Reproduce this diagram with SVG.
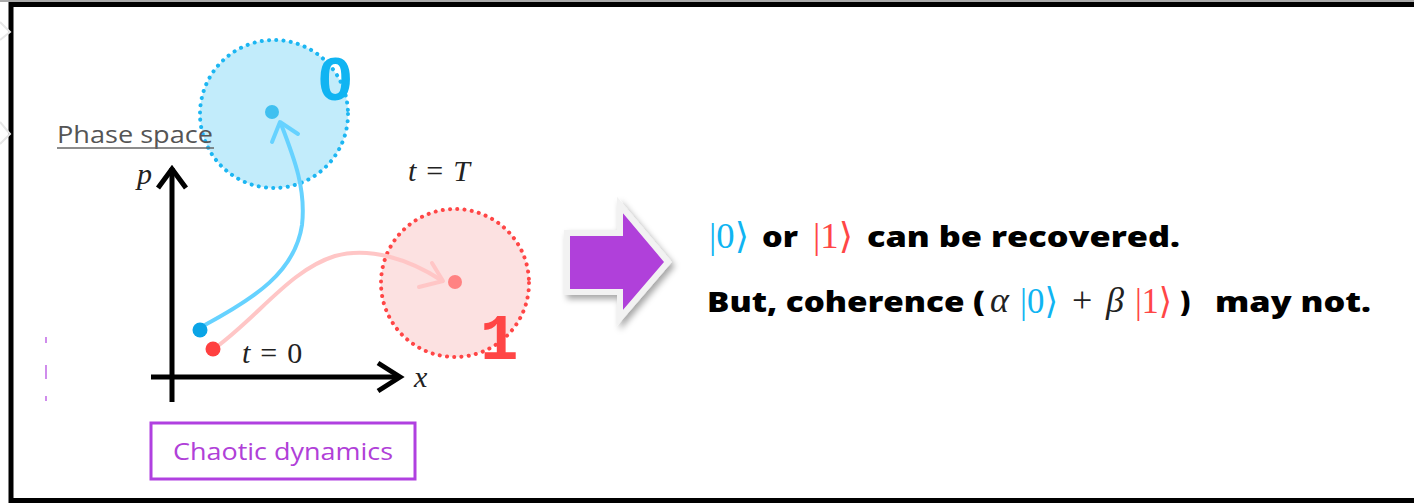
<svg xmlns="http://www.w3.org/2000/svg" width="1414" height="503" viewBox="0 0 1414 503">
<style>
.bold{font-family:'Open Sans','Noto Sans','Liberation Sans',sans-serif;font-weight:800;font-size:29px;fill:#000}
.math{font-family:'Liberation Serif','DejaVu Serif','DejaVu Sans',serif;font-size:36px}
.mi{font-family:'Liberation Serif','DejaVu Serif',serif;font-style:italic;font-size:30px;fill:#222}
.mn{font-family:'Liberation Serif','DejaVu Serif',serif;font-size:30px;fill:#222}
.cyan{fill:#10B4F2}
.red{fill:#FF4646}
.axis{stroke:#000;stroke-width:5;fill:none;stroke-linecap:butt}
.head{stroke:#000;stroke-width:5;fill:none;stroke-linejoin:miter}
</style>
<defs>
<filter id="sh" x="-30%" y="-30%" width="170%" height="170%">
<feDropShadow dx="3" dy="4" stdDeviation="3" flood-color="#000" flood-opacity="0.35"/>
</filter>
</defs>
<rect width="1414" height="503" fill="#fff"/>
<!-- frame -->
<line x1="0" y1="1" x2="1414" y2="1" stroke="#aaa" stroke-width="2"/>
<path d="M1420,4.5 H11 V500.5 H1420" fill="none" stroke="#000" stroke-width="5"/>
<!-- faint edge chevrons -->
<polyline points="0,22 10,32 0,40" fill="none" stroke="#e6e6e6" stroke-width="2"/>
<polyline points="0,122 10,134 0,144" fill="none" stroke="#e6e6e6" stroke-width="2"/>
<!-- purple ticks -->
<g stroke="#B040E0" stroke-width="1.2">
<line x1="46" y1="337" x2="46" y2="343"/>
<line x1="46" y1="365" x2="46" y2="379"/>
<line x1="46" y1="396" x2="46" y2="401"/>
</g>

<g id="state0">
<circle cx="274" cy="114" r="74" fill="#C2ECFB" stroke="#1CB6F2" stroke-width="4" stroke-dasharray="0.1 7.2" stroke-linecap="round"/>
<circle cx="272" cy="112" r="7" fill="#40C0F0"/>
<text x="318" y="100" font-family="'Liberation Sans','Noto Sans',sans-serif" font-weight="700" font-size="62" fill="#10B4F2">0</text>
</g>

<g id="state1">
<circle cx="455" cy="283" r="74" fill="#FCE1E1" stroke="#FF4646" stroke-width="4" stroke-dasharray="0.1 7.2" stroke-linecap="round"/>
<circle cx="455" cy="282" r="7" fill="#FF8282"/>
<text x="480" y="359" font-family="'Liberation Mono','DejaVu Sans Mono',monospace" font-weight="700" font-size="64" fill="#FF4646">1</text>
</g>

<g id="phase-space-label">
<text x="57" y="143" font-family="'Open Sans','Noto Sans',sans-serif" font-size="24" fill="#555" textLength="156" lengthAdjust="spacingAndGlyphs">Phase space</text>
<line x1="57" y1="148" x2="214" y2="148" stroke="#666" stroke-width="1.5"/>
</g>

<g id="axes">
<line class="axis" x1="172" y1="168" x2="172" y2="402"/>
<polyline class="head" points="158,188 172,169 186,188"/>
<line class="axis" x1="151" y1="377" x2="400" y2="377"/>
<polyline class="head" points="378,363 400,377 378,391"/>
<text class="mi" x="137" y="184">p</text>
<text class="mi" x="414" y="387">x</text>
</g>

<g id="labels">
<text x="408" y="181"><tspan class="mi">t</tspan><tspan class="mn" dx="10">=</tspan><tspan class="mi" dx="10">T</tspan></text>
<text x="242" y="363"><tspan class="mi">t</tspan><tspan class="mn" dx="10">=</tspan><tspan class="mn" dx="10">0</tspan></text>
</g>

<g id="connectors">
<path d="M203,326 C255,298 295,272 302,225 C306,190 295,160 281,124" fill="none" stroke="#66D2FF" stroke-width="4"/>
<polyline points="272,142 280,122 298,134" fill="none" stroke="#66D2FF" stroke-width="4" stroke-linecap="round" stroke-linejoin="round"/>
<path d="M215,348 C260,315 290,270 335,256 C370,246 410,260 441,280" fill="none" stroke="#FFC6C6" stroke-width="4"/>
<polyline points="432,263 443,281 419,287" fill="none" stroke="#FFC6C6" stroke-width="4" stroke-linecap="round" stroke-linejoin="round"/>
</g>

<g id="start-points">
<circle cx="200" cy="330" r="7.5" fill="#0AA4E6"/>
<circle cx="213" cy="349" r="7.5" fill="#FF4040"/>
</g>

<g id="chaotic-dynamics">
<rect x="151" y="423" width="264" height="56" fill="#fff" stroke="#B040E0" stroke-width="3"/>
<text x="173" y="460" font-family="'Open Sans','Noto Sans',sans-serif" font-size="24" fill="#B040D8" textLength="220" lengthAdjust="spacingAndGlyphs">Chaotic dynamics</text>
</g>

<g id="big-arrow">
<polygon points="567,233 620,233 620,205 668,262 620,318 620,292 567,292" fill="#B040DA" stroke="#F2F2F2" stroke-width="6" stroke-linejoin="miter" filter="url(#sh)"/>
</g>

<g id="statement">
<text class="math cyan" x="709" y="248" textLength="40" lengthAdjust="spacingAndGlyphs">|0⟩</text>
<text class="bold" x="762" y="247" textLength="36" lengthAdjust="spacingAndGlyphs">or</text>
<text class="math red" x="813" y="248" textLength="40" lengthAdjust="spacingAndGlyphs">|1⟩</text>
<text class="bold" x="867" y="247" textLength="313" lengthAdjust="spacingAndGlyphs">can be recovered.</text>

<text class="bold" x="707" y="312" textLength="278" lengthAdjust="spacingAndGlyphs">But, coherence (</text>
<text class="math" x="990" y="312" font-style="italic" fill="#222" font-size="34">α</text>
<text class="math cyan" x="1020" y="313" textLength="38" lengthAdjust="spacingAndGlyphs">|0⟩</text>
<text class="math" x="1072" y="312" fill="#222" font-size="34">+</text>
<text class="math" x="1106" y="312" font-style="italic" fill="#222" font-size="34">β</text>
<text class="math red" x="1135" y="313" textLength="37" lengthAdjust="spacingAndGlyphs">|1⟩</text>
<text class="bold" x="1180" y="312">)</text>
<text class="bold" x="1215" y="312" textLength="156" lengthAdjust="spacingAndGlyphs">may not.</text>
</g>
</svg>
